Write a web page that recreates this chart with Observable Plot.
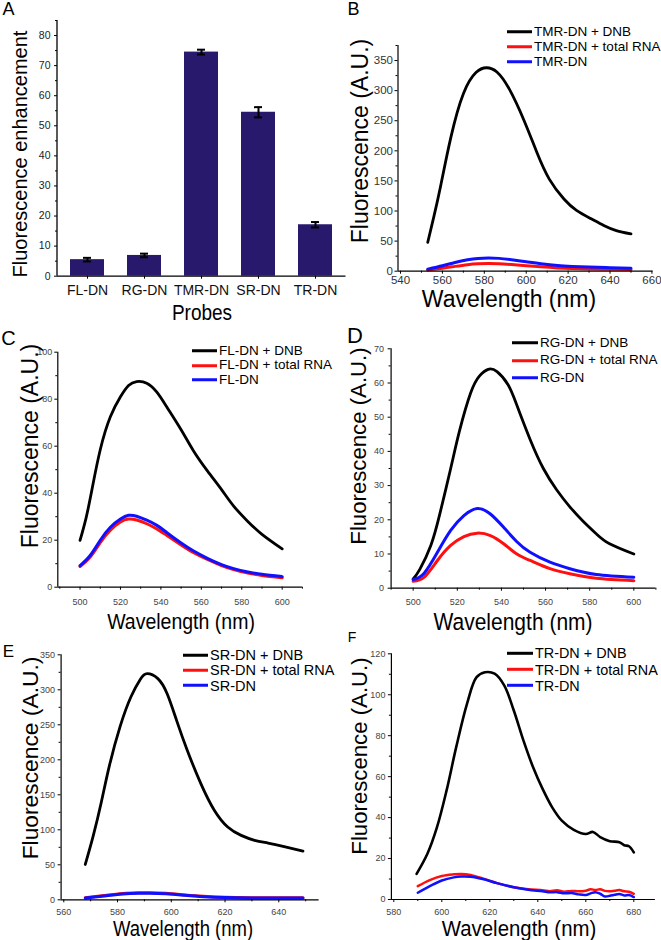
<!DOCTYPE html>
<html><head><meta charset="utf-8">
<script src="https://cdn.jsdelivr.net/npm/d3@7"></script>
<script src="https://cdn.jsdelivr.net/npm/@observablehq/plot@0.6"></script>
<style>
body{margin:0;background:#fff;}
#fig{position:relative;width:661px;height:940px;overflow:hidden;background:#fff;font-family:"Liberation Sans",Arial,sans-serif;}
.panel{position:absolute;}
.panel svg{display:block;}
.lbl{position:absolute;white-space:nowrap;color:#000;line-height:1;}
.leg{position:absolute;white-space:nowrap;color:#000;line-height:1;display:flex;align-items:center;transform:translateY(-50%);}
</style></head><body><div id="fig"></div>
<script>
// ---------- Panel A data ----------
const probes = ["FL-DN","RG-DN","TMR-DN","SR-DN","TR-DN"];
const enhancement = [5.5, 6.9, 74.5, 54.5, 17.1];
const enhError = [0.6, 0.6, 0.8, 1.7, 0.9];
const A_yTicks = [0,10,20,30,40,50,60,70,80];
const A_yMinor = [5,15,25,35,45,55,65,75,85];

// ---------- Panel B (TMR-DN) ----------
const B_wl_dnb = [553,556,559,564,570,576,581,586,592,599,605,611,618,624,631,637,643,650];
const B_dnb = [48,92,139,222,295,330,338,331,302,250,198,153,120,101,87,76,67.5,62];
const B_wl_low = [553,560,566,572,577,582,587,593,600,607,615,622,630,640,650];
const B_rna = [2,5,8,10.8,12.2,12.7,12.3,11,9.2,7.3,5.5,4.5,3.8,3.2,3];
const B_dn = [3.5,9,14.5,19,21.3,22,21.3,19,15.8,12.5,9.5,8,6.8,5.8,5];
const B_labels = ["TMR-DN + DNB","TMR-DN + total RNA","TMR-DN"];
const B_xTicks = [540,560,580,600,620,640,660];
const B_xMinor = [550,570,590,610,630,650];
const B_yTicks = [0,50,100,150,200,250,300,350];
const B_yMinor = [25,75,125,175,225,275,325,375];

// ---------- Panel C (FL-DN) ----------
const C_wl_dnb = [500,503,506,510,515,520,524,528,533,538,543,550,556,563,570,576,583,590,600];
const C_dnb = [19.9,29.5,42,58.5,72.5,81,85.8,87.5,86.8,83,76.6,67,58.2,49.5,41.5,34.5,28,22.5,16.3];
const C_wl_low = [500,505,510,515,520,524,528,533,538,543,550,556,563,570,576,583,590,600];
const C_rna = [8.8,12.8,19,24.3,27.8,29,28.6,27,24.8,22,18,14.8,11.8,9.2,7.5,6,5,4];
const C_dn = [9.2,13.5,20,25.5,29,30.6,30.2,28.5,26.3,23.2,18.8,15.5,12.3,9.6,7.9,6.5,5.5,4.5];
const C_labels = ["FL-DN + DNB","FL-DN + total RNA","FL-DN"];
const C_xTicks = [500,520,540,560,580,600];
const C_xMinor = [490,510,530,550,570,590,610];
const C_yTicks = [0,20,40,60,80,100];
const C_yMinor = [10,30,50,70,90];

// ---------- Panel D (RG-DN) ----------
const D_wl_dnb = [500,503,508,512,517,521,526,530,534,538,543,547,553,559,565,571,577,583,589,600];
const D_dnb = [2.7,5.5,12.5,21.5,35,46,57,62,64,63.3,59.5,53.5,43.5,35,28.8,23.8,19.6,15.9,13,10];
const D_wl_low = [500,505,511,517,523,529,535,541,547,553,562,571,583,600];
const D_rna = [2,3.2,8.1,12.5,15.1,16.1,15.4,13,10,8.1,5.7,4.2,2.9,2.2];
const D_dn = [2.5,4.4,10.5,16.9,21.2,23.3,21.7,17.8,13.6,10.5,7.6,5.7,4,3.2];
const D_labels = ["RG-DN + DNB","RG-DN + total RNA","RG-DN"];
const D_xTicks = [500,520,540,560,580,600];
const D_xMinor = [490,510,530,550,570,590,610];
const D_yTicks = [0,10,20,30,40,50,60,70];
const D_yMinor = [5,15,25,35,45,55,65];

// ---------- Panel E (SR-DN) ----------
const E_wl_dnb = [568,571,574,577,581,585,588.5,591,595,598.5,602,606,611,616,621,626,631,636,642,649];
const E_dnb = [50.5,92,140,192,248,290,315,323,316,294,256,213,166,128,104,92,85,81,76,69.5];
const E_wl_low = [568,575,582,588,592,598,605,612,620,630,640,649];
const E_rna = [2.8,6,9,10,10.2,9.2,7,5,3.5,3,2.8,2.8];
const E_dn = [2.5,5.5,8.2,9.3,9.4,8.5,6.5,4.5,3.2,2.7,2.6,2.5];
const E_labels = ["SR-DN + DNB","SR-DN + total RNA","SR-DN"];
const E_xTicks = [560,580,600,620,640];
const E_xMinor = [570,590,610,630,650];
const E_yTicks = [0,50,100,150,200,250,300,350];
const E_yMinor = [25,75,125,175,225,275,325];

// ---------- Panel F (TR-DN) ----------
const F_wl_dnb = [589.5,594,598,602,606,610.5,614.5,618,622,626,630,634,638,642,646,650,655,660,663,666,670,674,676,678,680];
const F_dnb = [12.5,22.3,35.3,53.3,74.4,95.6,108.6,111,110.3,104.6,92.3,77.7,64.7,54,45,38.5,34,32,33,30.5,28.5,28,26.5,26,23];
const F_wl_low = [590,595,600,605,608,612,617,623,630,636,642,645,648,651,654,657,660,662,664,666,668,670,672,674,676,678,680];
const F_rna = [6.5,9.5,11.5,12.3,12.5,12,10.3,8,6,5,4.5,4,4.5,3.8,4.2,4,4.3,5,4.6,5,4.2,4,4.3,4.6,4,3.8,2.8];
const F_dn = [3.3,6.5,9.3,10.8,11.2,11.1,10,8,6,4.8,4,3.5,3.6,3,3.2,2.5,2.2,3,3.6,2.8,1.5,1.8,2.3,2.7,2,2.2,1.2];
const F_labels = ["TR-DN + DNB","TR-DN + total RNA","TR-DN"];
const F_xTicks = [580,600,620,640,660,680];
const F_xMinor = [590,610,630,650,670];
const F_yTicks = [0,20,40,60,80,100,120];
const F_yMinor = [10,30,50,70,90,110];

const FONT = '"Liberation Sans", Arial, sans-serif';
const BLACK = "#000000", RED = "#ff1010", BLUE = "#1010ff", NAVY = "#28196c";
const fig = document.getElementById("fig");

function place(svg, left, top, w) {
  const d = document.createElement("div");
  d.className = "panel";
  d.style.left = left + "px"; d.style.top = top + "px"; d.style.width = w + "px";
  d.appendChild(svg); fig.appendChild(d);
}
function label(text, cx, cy, fs, opts = {}) {
  const d = document.createElement("div");
  d.className = "lbl";
  d.textContent = text;
  d.style.left = cx + "px"; d.style.top = cy + "px"; d.style.fontSize = fs + "px";
  const rot = opts.rotate ? " rotate(-90deg)" : "";
  const sy = opts.sy ? ` scaleY(${opts.sy})` : "";
  d.style.transform = `translate(-50%,-50%)${rot}${sy}`;
  fig.appendChild(d);
}
function legend(x, y0, dy, fs, lw, labels, colors) {
  labels.forEach((t, i) => {
    const d = document.createElement("div");
    d.className = "leg";
    d.style.left = x + "px"; d.style.top = (y0 + dy * i) + "px"; d.style.fontSize = fs + "px";
    const s = document.createElement("span");
    s.style.cssText = `display:inline-block;width:${lw}px;height:3px;background:${colors[i]};margin-right:2px;`;
    d.appendChild(s);
    d.appendChild(document.createTextNode(t));
    fig.appendChild(d);
  });
}

// ---------- Panel A ----------
const dataA = probes.map((p, i) => ({p, v: enhancement[i], e: enhError[i]}));
const plotA = Plot.plot({
  width: 350, height: 310, marginLeft: 57, marginRight: 4.5, marginTop: 20, marginBottom: 34.3,
  x: {domain: probes, paddingInner: 0.41, paddingOuter: 0.2, label: null},
  y: {domain: [0, 85], label: null},
  style: {fontFamily: FONT, fontSize: "10.5px", background: "transparent", overflow: "visible", color: "#222"},
  marks: [
    Plot.barY(dataA, {x: "p", y: "v", fill: NAVY}),
    Plot.ruleX(dataA, {x: "p", y1: d => d.v - d.e, y2: d => d.v + d.e, stroke: BLACK, strokeWidth: 2}),
    Plot.tickY(dataA, {x: "p", y: d => d.v + d.e, stroke: BLACK, strokeWidth: 2, insetLeft: 13, insetRight: 13}),
    Plot.tickY(dataA, {x: "p", y: d => d.v - d.e, stroke: BLACK, strokeWidth: 2, insetLeft: 13, insetRight: 13}),
    Plot.axisY({ticks: A_yTicks, tickSize: 3, tickPadding: 4, stroke: BLACK, fill: "#222", label: null}),
    Plot.axisY({ticks: A_yMinor, tickSize: 2, tickFormat: () => "", stroke: BLACK, label: null}),
    Plot.axisX({tickSize: 3, tickPadding: 6, fontSize: 14, stroke: BLACK, fill: "#111", label: null}),
    Plot.ruleY([0], {stroke: BLACK, strokeWidth: 1.3})
  ]
});
place(plotA, 0, 0, 350);
d3.select(plotA).append("line")
  .attr("x1", 57).attr("x2", 57).attr("y1", 20).attr("y2", 310 - 34.3)
  .attr("stroke", BLACK).attr("stroke-width", 1.3);

// ---------- spectra ----------
function spectrum(c) {
  const series = c.series.map(s => Plot.line(s.wl.map((x, i) => ({x, y: s.v[i]})),
    {x: "x", y: "y", stroke: s.color, strokeWidth: s.sw, curve: c.curve || "natural"}));
  return Plot.plot({
    width: c.w, height: c.h, marginLeft: c.ml, marginRight: c.mr, marginTop: c.mt, marginBottom: c.mb,
    x: {domain: c.xdom, label: null}, y: {domain: c.ydom, label: null},
    style: {fontFamily: FONT, fontSize: c.fs + "px", background: "transparent", overflow: "visible"},
    marks: [
      ...series,
      Plot.axisY({ticks: c.yt, tickSize: 3, tickPadding: c.ypad, stroke: BLACK, fill: c.tcol, label: null}),
      Plot.axisY({ticks: c.ym, tickSize: 2, tickFormat: () => "", stroke: BLACK, label: null}),
      Plot.axisX({ticks: c.xt, tickSize: 3, tickPadding: c.xpad, stroke: BLACK, fill: c.tcol, label: null}),
      Plot.axisX({ticks: c.xm, tickSize: 2, tickFormat: () => "", stroke: BLACK, label: null}),
      Plot.ruleX([c.xdom[0]], {stroke: BLACK, strokeWidth: 1.2}),
      Plot.ruleY([c.ydom[0]], {stroke: BLACK, strokeWidth: 1.2})
    ]
  });
}

const plotB = spectrum({w: 331, h: 310, ml: 67.5, mr: 8.5, mt: 45, mb: 39.3,
  xdom: [538.8, 660.5], ydom: [0, 375], xt: B_xTicks, xm: B_xMinor, yt: B_yTicks, ym: B_yMinor,
  fs: 11.5, xpad: 1.5, ypad: 2, tcol: "#333",
  series: [{wl: B_wl_dnb, v: B_dnb, color: BLACK, sw: 2.8},
           {wl: B_wl_low, v: B_rna, color: RED, sw: 3},
           {wl: B_wl_low, v: B_dn, color: BLUE, sw: 3}]});
place(plotB, 330, 0, 331);

const plotC = spectrum({w: 330, h: 310, ml: 57.3, mr: 28.1, mt: 41.7, mb: 33.3,
  xdom: [489, 610], ydom: [0, 100], xt: C_xTicks, xm: C_xMinor, yt: C_yTicks, ym: C_yMinor,
  fs: 9, xpad: 8, ypad: 2.6, tcol: "#444",
  series: [{wl: C_wl_dnb, v: C_dnb, color: BLACK, sw: 2.8},
           {wl: C_wl_low, v: C_rna, color: RED, sw: 3},
           {wl: C_wl_low, v: C_dn, color: BLUE, sw: 3}]});
place(plotC, 0, 310, 330);

const plotD = spectrum({w: 331, h: 310, ml: 60.6, mr: 5.6, mt: 38.3, mb: 32.3,
  xdom: [490, 610], ydom: [0, 70], xt: D_xTicks, xm: D_xMinor, yt: D_yTicks, ym: D_yMinor,
  fs: 9, xpad: 7, ypad: 4, tcol: "#444",
  series: [{wl: D_wl_dnb, v: D_dnb, color: BLACK, sw: 2.8},
           {wl: D_wl_low, v: D_rna, color: RED, sw: 3},
           {wl: D_wl_low, v: D_dn, color: BLUE, sw: 3}]});
place(plotD, 330, 310, 331);

const plotE = spectrum({w: 330, h: 320, ml: 60.6, mr: 11.4, mt: 34.3, mb: 40.7,
  xdom: [559, 655], ydom: [0, 350], xt: E_xTicks, xm: E_xMinor, yt: E_yTicks, ym: E_yMinor,
  fs: 9, xpad: 6, ypad: 3, tcol: "#444",
  series: [{wl: E_wl_dnb, v: E_dnb, color: BLACK, sw: 2.8},
           {wl: E_wl_low, v: E_rna, color: RED, sw: 3},
           {wl: E_wl_low, v: E_dn, color: BLUE, sw: 3}]});
place(plotE, 0, 620, 330);

const plotF = spectrum({w: 331, h: 320, ml: 60.9, mr: 6.1, mt: 33.3, mb: 41,
  xdom: [579, 689], ydom: [0, 120], xt: F_xTicks, xm: F_xMinor, yt: F_yTicks, ym: F_yMinor,
  fs: 9, xpad: 6, ypad: 3, tcol: "#444", curve: "catmull-rom",
  series: [{wl: F_wl_dnb, v: F_dnb, color: BLACK, sw: 2.6},
           {wl: F_wl_low, v: F_rna, color: RED, sw: 2.5},
           {wl: F_wl_low, v: F_dn, color: BLUE, sw: 2.5}]});
place(plotF, 330, 620, 331);

// ---------- axis titles ----------
label("Fluorescence enhancement", 19.5, 154, 20, {rotate: true});
label("Probes", 202, 312, 19, {sy: 1.2});
label("Fluorescence (A.U.)", 359.5, 141, 23, {rotate: true});
label("Wavelength (nm)", 509, 299, 23, {sy: 1.05});
label("Fluorescence (A.U.)", 29.5, 445.7, 23, {rotate: true});
label("Wavelength (nm)", 181, 622, 19.5, {sy: 1.15});
label("Fluorescence (A.U.)", 358.5, 446, 22.2, {rotate: true});
label("Wavelength (nm)", 513, 622, 21, {sy: 1.1});
label("Fluorescence (A.U.)", 29.5, 758, 22.8, {rotate: true});
label("Wavelength (nm)", 183, 928.5, 18.5, {sy: 1.15});
label("Fluorescence (A.U.)", 359.5, 756, 22.2, {rotate: true});
label("Wavelength (nm)", 519, 928.5, 20.4, {sy: 1.1});

// ---------- panel letters ----------
label("A", 8.5, 9, 18);
label("B", 353.5, 9, 18);
label("C", 8.5, 337.5, 20);
label("D", 355, 336, 22);
label("E", 8.5, 651, 17);
label("F", 352, 637, 14);

// ---------- legends ----------
const COLS = [BLACK, RED, BLUE];
legend(507, 32, 15, 13.5, 25, B_labels, COLS);
legend(192, 350.7, 14.7, 13.5, 25, C_labels, COLS);
legend(512, 343, 17.4, 13.5, 26, D_labels, COLS);
legend(183, 655, 15.3, 14.5, 25, E_labels, COLS);
legend(507, 653.3, 16.2, 14.4, 26, F_labels, COLS);
</script></body></html>
